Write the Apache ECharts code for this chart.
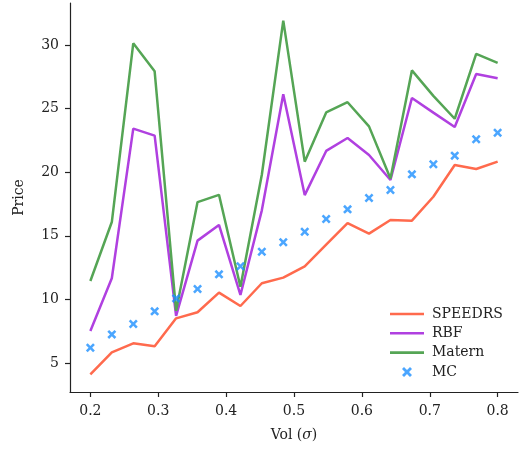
<!DOCTYPE html>
<html><head><meta charset="utf-8">
<script src="https://cdn.jsdelivr.net/npm/echarts@6/dist/echarts.min.js"></script>
<style>html,body{margin:0;padding:0;background:#fff}#c{width:519px;height:450px}</style>
</head><body><div id="c"></div>
<script>
const vols = [0.2,0.2316,0.2632,0.2947,0.3263,0.3579,0.3895,0.4211,0.4526,0.4842,0.5158,0.5474,0.5789,0.6105,0.6421,0.6737,0.7053,0.7368,0.7684,0.8];
const speedrs = [4.11,5.84,6.55,6.31,8.51,8.99,10.53,9.48,11.27,11.71,12.6,14.3,16.0,15.17,16.24,16.19,18.07,20.57,20.25,20.83];
const rbf = [7.52,11.66,23.42,22.87,8.7,14.62,15.85,10.35,17.0,26.12,18.2,21.67,22.69,21.35,19.39,25.83,24.68,23.55,27.72,27.38];
const matern = [11.45,16.08,30.13,27.93,9.1,17.65,18.22,11.0,19.8,31.91,20.83,24.7,25.5,23.6,19.5,28.0,26.0,24.2,29.3,28.6];
const mc = [6.2,7.25,8.07,9.06,10.08,10.82,11.97,12.6,13.75,14.49,15.32,16.32,17.08,17.97,18.6,19.83,20.62,21.3,22.59,23.1];
const xTicks = [0.2,0.3,0.4,0.5,0.6,0.7,0.8];
const yTicks = [5,10,15,20,25,30];

const pair = a => vols.map((v,i)=>[v,a[i]]);
const font = "'DejaVu Serif','Liberation Serif',serif";
const fs = 14;
const xSym = 'path://M2,0 L5,3 L8,0 L10,2 L7,5 L10,8 L8,10 L5,7 L2,10 L0,8 L3,5 L0,2 Z';
const lineIcon = 'path://M0,0 L34,0 L34,2.6 L0,2.6 Z';
const C = {s:'#FF6A4D', r:'#B040E0', m:'#55A555', mc:'#1E90FF'};
const axisCommon = {
  axisLine:{show:true,lineStyle:{color:'#222',width:1.2}},
  axisTick:{show:true,length:5,lineStyle:{color:'#222',width:1.2}},
  splitLine:{show:false},
  axisLabel:{color:'#222',fontFamily:font,fontSize:fs}
};
const chart = echarts.init(document.getElementById('c'));
chart.setOption({
  animation:false,
  backgroundColor:'#fff',
  grid:{left:70,right:1,top:3,bottom:58,containLabel:false},
  xAxis:{type:'value',min:0.17,max:0.83,
    ...axisCommon,
    axisTick:{...axisCommon.axisTick,customValues:xTicks},
    axisLabel:{...axisCommon.axisLabel,customValues:xTicks,margin:12,formatter:v=>v.toFixed(1)},
    name:'{n|Vol (}{s|σ}{n|)}',nameLocation:'middle',nameGap:36,
    nameTextStyle:{rich:{n:{fontFamily:font,fontSize:fs,color:'#222'},s:{fontFamily:font,fontSize:fs,fontStyle:'italic',color:'#222'}}}
  },
  yAxis:{type:'value',min:2.72,max:33.3,
    ...axisCommon,
    axisTick:{...axisCommon.axisTick,customValues:yTicks},
    axisLabel:{...axisCommon.axisLabel,customValues:yTicks,margin:11},
    name:'Price',nameLocation:'middle',nameGap:44,nameRotate:90,
    nameTextStyle:{fontFamily:font,fontSize:fs,color:'#222'}
  },
  legend:{
    orient:'vertical',left:385,top:302,itemWidth:34,itemHeight:10,itemGap:5.3,symbolKeepAspect:true,
    textStyle:{fontFamily:font,fontSize:fs,color:'#222',lineHeight:14,padding:[0,0,0,3]},
    data:[
      {name:'SPEEDRS',icon:lineIcon,itemStyle:{color:C.s}},
      {name:'RBF',icon:lineIcon,itemStyle:{color:C.r}},
      {name:'Matern',icon:lineIcon,itemStyle:{color:C.m}},
      {name:'MC',icon:xSym,itemStyle:{color:C.mc}}
    ]
  },
  series:[
    {name:'SPEEDRS',type:'line',data:pair(speedrs),showSymbol:false,symbol:'none',lineStyle:{color:C.s,width:2.5},itemStyle:{color:C.s},z:2},
    {name:'RBF',type:'line',data:pair(rbf),showSymbol:false,symbol:'none',lineStyle:{color:C.r,width:2.5},itemStyle:{color:C.r},z:3},
    {name:'Matern',type:'line',data:pair(matern),showSymbol:false,symbol:'none',lineStyle:{color:C.m,width:2.5},itemStyle:{color:C.m},z:4},
    {name:'MC',type:'scatter',data:pair(mc),symbol:xSym,symbolSize:9,itemStyle:{color:C.mc},z:5}
  ]
});
</script></body></html>
